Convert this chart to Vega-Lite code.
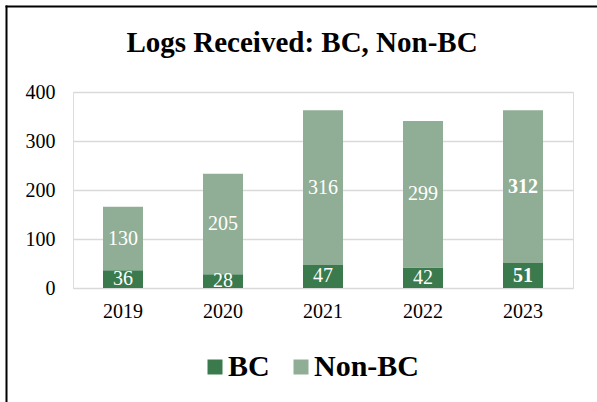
{
  "$schema": "https://vega.github.io/schema/vega-lite/v6.json",
  "autosize": {"type": "none"},
  "width": 500,
  "height": 196,
  "padding": {"left": 73, "top": 92, "right": 24, "bottom": 114},
  "background": "white",
  "title": {
    "text": "Logs Received: BC, Non-BC",
    "font": "Liberation Serif",
    "fontSize": 29,
    "fontWeight": "bold",
    "color": "black",
    "anchor": "middle",
    "frame": "group",
    "dx": -21,
    "offset": -52
  },
  "layer": [
    {
      "data": {
        "values": [
          {"year": "2019", "type": "BC", "value": 36},
          {"year": "2019", "type": "Non-BC", "value": 130},
          {"year": "2020", "type": "BC", "value": 28},
          {"year": "2020", "type": "Non-BC", "value": 205},
          {"year": "2021", "type": "BC", "value": 47},
          {"year": "2021", "type": "Non-BC", "value": 316},
          {"year": "2022", "type": "BC", "value": 42},
          {"year": "2022", "type": "Non-BC", "value": 299},
          {"year": "2023", "type": "BC", "value": 51},
          {"year": "2023", "type": "Non-BC", "value": 312}
        ]
      },
      "encoding": {
        "x": {
          "field": "year",
          "type": "nominal",
          "scale": {"paddingInner": 0.6, "paddingOuter": 0.3},
          "axis": {
            "title": null,
            "labelAngle": 0,
            "labelFont": "Liberation Serif",
            "labelFontSize": 20,
            "labelColor": "black",
            "labelPadding": 13,
            "ticks": false,
            "domain": false
          }
        },
        "y": {
          "field": "value",
          "type": "quantitative",
          "stack": "zero",
          "scale": {"domain": [0, 400], "nice": false},
          "axis": {
            "title": null,
            "values": [0, 100, 200, 300, 400],
            "labelFont": "Liberation Serif",
            "labelFontSize": 20,
            "labelColor": "black",
            "labelPadding": 18,
            "ticks": false,
            "domain": false,
            "grid": true,
            "gridColor": "#d9d9d9",
            "gridWidth": 1.5
          }
        },
        "order": {"field": "type", "sort": "ascending"}
      },
      "layer": [
        {
          "mark": {"type": "bar"},
          "encoding": {
            "color": {
              "field": "type",
              "type": "nominal",
              "scale": {"domain": ["BC", "Non-BC"], "range": ["#3a7a4d", "#8fae95"]},
              "legend": {
                "title": null,
                "orient": "none",
                "direction": "horizontal",
                "legendX": 127,
                "legendY": 260,
                "symbolType": "square",
                "symbolSize": 225,
                "symbolStrokeWidth": 0,
                "labelFont": "Liberation Serif",
                "labelFontSize": 30,
                "labelFontWeight": "bold",
                "labelColor": "black",
                "labelOffset": -2,
                "columnPadding": 16,
                "padding": 0
              }
            }
          }
        },
        {
          "transform": [{"filter": "datum.year !== '2023'"}],
          "mark": {"type": "text", "font": "Liberation Serif", "fontSize": 20, "color": "white", "baseline": "middle"},
          "encoding": {
            "y": {"field": "value", "type": "quantitative", "stack": "zero", "bandPosition": 0.5},
            "detail": {"field": "type", "type": "nominal"},
            "text": {"field": "value", "type": "quantitative"}
          }
        },
        {
          "transform": [{"filter": "datum.year === '2023'"}],
          "mark": {"type": "text", "font": "Liberation Serif", "fontSize": 20, "fontWeight": "bold", "color": "white", "baseline": "middle"},
          "encoding": {
            "y": {"field": "value", "type": "quantitative", "stack": "zero", "bandPosition": 0.5},
            "detail": {"field": "type", "type": "nominal"},
            "text": {"field": "value", "type": "quantitative"}
          }
        }
      ]
    },
    {
      "data": {"values": [{"b": 0}]},
      "mark": {"type": "point", "opacity": 0},
      "encoding": {
        "x": {
          "field": "b",
          "type": "quantitative",
          "scale": {"domain": [0, 1], "range": [-68, 600]},
          "axis": {"orient": "top", "offset": 86, "title": null, "labels": false, "ticks": false, "grid": false, "domainColor": "black", "domainWidth": 2}
        },
        "y": {
          "field": "b",
          "type": "quantitative",
          "scale": {"domain": [0, 1], "range": [330, -87]},
          "axis": {"orient": "left", "offset": 67, "title": null, "labels": false, "ticks": false, "grid": false, "domainColor": "black", "domainWidth": 2}
        }
      }
    }
  ],
  "resolve": {"scale": {"x": "independent", "y": "independent"}, "axis": {"x": "independent", "y": "independent"}}
}
